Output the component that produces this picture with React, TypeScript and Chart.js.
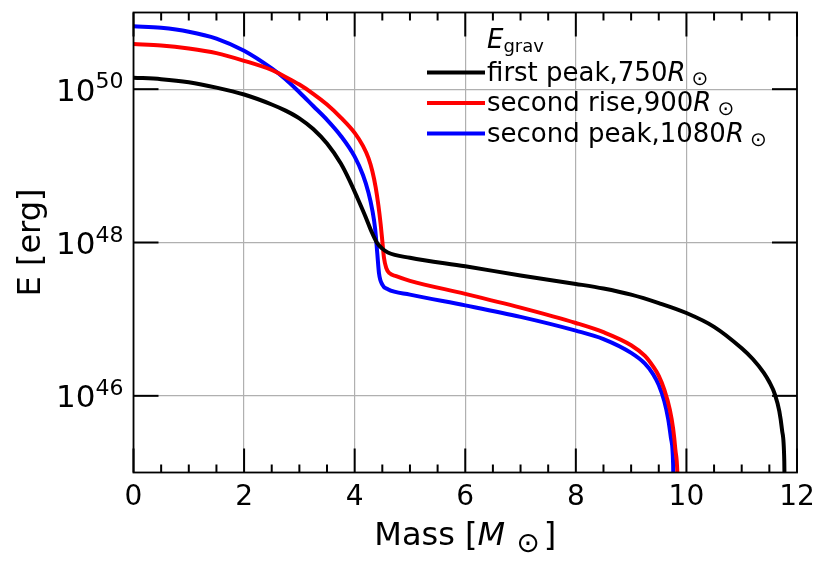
import { useEffect, useRef } from 'react';
import { Chart, registerables } from 'chart.js';

Chart.register(...registerables);

// E_grav profiles, log10(E / erg)
const firstPeakMass = [0, 0.5, 1, 1.5, 2, 2.5, 2.75, 3, 3.25, 3.5, 3.75, 3.9, 4.05, 4.2, 4.3, 4.4, 4.5, 4.6, 5, 6, 7, 8, 8.5, 9, 9.5, 10, 10.5, 11, 11.2, 11.4, 11.5, 11.6, 11.68, 11.73, 11.77, 11.79];
const firstPeakLogE = [50.15, 50.13, 50.09, 50.02, 49.93, 49.8, 49.72, 49.62, 49.48, 49.29, 49.03, 48.82, 48.58, 48.33, 48.15, 48.0, 47.92, 47.87, 47.8, 47.69, 47.57, 47.46, 47.4, 47.32, 47.21, 47.08, 46.9, 46.62, 46.48, 46.3, 46.18, 46.02, 45.8, 45.55, 45.15, 44];

const secondRiseMass = [0, 0.5, 1, 1.5, 2, 2.5, 2.75, 3, 3.25, 3.5, 3.75, 4, 4.15, 4.25, 4.32, 4.38, 4.43, 4.47, 4.5, 4.53, 4.57, 4.63, 4.75, 5, 6, 7, 8, 8.5, 9, 9.25, 9.4, 9.5, 9.6, 9.7, 9.76, 9.8, 9.84, 9.86];
const secondRiseLogE = [50.59, 50.57, 50.53, 50.47, 50.37, 50.25, 50.16, 50.06, 49.94, 49.8, 49.63, 49.43, 49.26, 49.1, 48.93, 48.72, 48.48, 48.24, 48.02, 47.8, 47.67, 47.6, 47.56, 47.5, 47.33, 47.15, 46.95, 46.83, 46.66, 46.52, 46.38, 46.26, 46.08, 45.82, 45.57, 45.3, 44.9, 44];

const secondPeakMass = [0, 0.5, 1, 1.5, 2, 2.5, 2.75, 3, 3.25, 3.5, 3.75, 4, 4.15, 4.25, 4.32, 4.37, 4.41, 4.44, 4.5, 4.6, 5, 6, 7, 8, 8.5, 9, 9.25, 9.4, 9.5, 9.6, 9.67, 9.72, 9.76, 9.78];
const secondPeakLogE = [50.82, 50.8, 50.75, 50.66, 50.5, 50.27, 50.13, 49.96, 49.78, 49.6, 49.39, 49.12, 48.88, 48.65, 48.42, 48.18, 47.85, 47.6, 47.45, 47.39, 47.32, 47.18, 47.03, 46.85, 46.74, 46.56, 46.42, 46.28, 46.14, 45.93, 45.7, 45.45, 45.1, 44];

const seriesLabels = ['first peak,750R⊙', 'second rise,900R⊙', 'second peak,1080R⊙'];
const seriesColors = ['#000000', '#ff0000', '#0000ff'];

const xTickValues = [0, 2, 4, 6, 8, 10, 12];
const xMinorStep = 0.5;
const yTickExponents = [46, 48, 50];

const FONT = '"DejaVu Sans", sans-serif';

type Piece = { text?: string; font?: string; dy?: number; gap?: number };

const toPoints = (mass: number[], logE: number[]) =>
  mass.map((m, i) => ({ x: m, y: Math.pow(10, logE[i]) }));

// draws a run of text pieces left to right
function drawRun(ctx: CanvasRenderingContext2D, x: number, y: number, parts: Piece[]) {
  let cx = x;
  for (const p of parts) {
    if (p.gap) { cx += p.gap; continue; }
    ctx.font = p.font!;
    ctx.fillText(p.text!, cx, y + (p.dy || 0));
    cx += ctx.measureText(p.text!).width;
  }
  return cx;
}

function runWidth(ctx: CanvasRenderingContext2D, parts: Piece[]) {
  let w = 0;
  for (const p of parts) {
    if (p.gap) { w += p.gap; continue; }
    ctx.font = p.font!;
    w += ctx.measureText(p.text!).width;
  }
  return w;
}

const axesOverlay = {
  id: 'axesOverlay',
  afterDraw(chart: any) {
    const { ctx, chartArea: a } = chart;
    const xs = chart.scales.x;
    const ys = chart.scales.y;
    const seg = (x1: number, y1: number, x2: number, y2: number) => {
      ctx.beginPath(); ctx.moveTo(x1, y1); ctx.lineTo(x2, y2); ctx.stroke();
    };
    ctx.save();
    ctx.strokeStyle = '#000';
    ctx.fillStyle = '#000';
    ctx.lineCap = 'butt';

    // ticks pointing inwards, mirrored on top / right
    ctx.lineWidth = 2;
    for (let v = 0; v <= xs.max; v += xMinorStep) {
      if (xTickValues.includes(v)) continue;
      const px = xs.getPixelForValue(v);
      seg(px, a.bottom, px, a.bottom - 8);
      seg(px, a.top, px, a.top + 8);
    }
    for (const t of xs.ticks) {
      const px = xs.getPixelForValue(t.value);
      seg(px, a.bottom, px, a.bottom - 24);
      seg(px, a.top, px, a.top + 24);
    }
    for (const t of ys.ticks) {
      const py = ys.getPixelForValue(t.value);
      seg(a.left, py, a.left + 25, py);
      seg(a.right, py, a.right - 25, py);
    }
    ctx.lineWidth = 1.8;
    ctx.strokeRect(a.left, a.top, a.right - a.left, a.bottom - a.top);

    // x tick labels
    ctx.textBaseline = 'alphabetic';
    ctx.textAlign = 'center';
    ctx.font = `28px ${FONT}`;
    for (const t of xs.ticks) {
      ctx.fillText(String(t.value), xs.getPixelForValue(t.value), a.bottom + 32.5);
    }

    // y tick labels 10^n
    ctx.textAlign = 'left';
    for (const t of ys.ticks) {
      const py = ys.getPixelForValue(t.value);
      const exp = String(Math.round(Math.log10(t.value)));
      ctx.font = `22px ${FONT}`;
      const we = ctx.measureText(exp).width;
      ctx.fillText(exp, a.left - 10 - we, py - 1);
      ctx.font = `31px ${FONT}`;
      const wb = ctx.measureText('10').width;
      ctx.fillText('10', a.left - 10 - we - wb, py + 11.5);
    }

    // x axis title: Mass [M_sun]
    const xTitle: Piece[] = [
      { text: 'Mass [', font: `32px ${FONT}` },
      { text: 'M', font: `italic 32px ${FONT}` },
      { gap: 11 },
      { text: '⊙', font: `28px ${FONT}`, dy: 7 },
      { gap: 4 },
      { text: ']', font: `32px ${FONT}` },
    ];
    const cx = (a.left + a.right) / 2;
    drawRun(ctx, cx - runWidth(ctx, xTitle) / 2, a.bottom + 72.5, xTitle);

    // y axis title
    ctx.save();
    ctx.translate(40, (a.top + a.bottom) / 2);
    ctx.rotate(-Math.PI / 2);
    ctx.textAlign = 'center';
    ctx.font = `32px ${FONT}`;
    ctx.fillText('E [erg]', 0, 0);
    ctx.restore();

    // legend
    const lx = a.left + 293.5;
    const tx = lx + 60;
    drawRun(ctx, tx, a.top + 35.5, [
      { text: 'E', font: `italic 26px ${FONT}` },
      { text: 'grav', font: `18px ${FONT}`, dy: 4 },
    ]);
    chart.data.datasets.forEach((ds: any, i: number) => {
      const base = a.top + 68 + i * 30.5;
      ctx.strokeStyle = ds.borderColor;
      ctx.lineWidth = 4;
      seg(lx, base - 8, lx + 58, base - 8);
      drawRun(ctx, tx, base, [
        { text: ds.label.slice(0, -2), font: `26px ${FONT}` },
        { text: 'R', font: `italic 26px ${FONT}` },
        { gap: 6 },
        { text: '⊙', font: `20px ${FONT}`, dy: 4 },
      ]);
    });
    ctx.restore();
  },
};

export default function App() {
  const canvasRef = useRef<HTMLCanvasElement>(null);

  useEffect(() => {
    document.body.style.margin = '0';
    const series = [
      toPoints(firstPeakMass, firstPeakLogE),
      toPoints(secondRiseMass, secondRiseLogE),
      toPoints(secondPeakMass, secondPeakLogE),
    ];
    const chart = new Chart(canvasRef.current!, {
      type: 'line',
      data: {
        datasets: series.map((pts, i) => ({
          label: seriesLabels[i],
          data: pts,
          borderColor: seriesColors[i],
          backgroundColor: seriesColors[i],
          borderWidth: 4,
          pointRadius: 0,
          cubicInterpolationMode: 'monotone' as const,
          clip: 0,
        })),
      },
      options: {
        responsive: false,
        animation: false,
        events: [],
        layout: { padding: { top: 12.5, right: 33, left: 0, bottom: 0 } },
        plugins: { legend: { display: false }, tooltip: { enabled: false } },
        scales: {
          x: {
            type: 'linear',
            min: 0,
            max: 12,
            afterBuildTicks: (s: any) => { s.ticks = xTickValues.map((v) => ({ value: v })); },
            afterFit: (s: any) => { s.height = 92.5; },
            ticks: { display: false },
            border: { display: false },
            grid: { color: '#b0b0b0', lineWidth: 1.2, drawTicks: false },
          },
          y: {
            type: 'logarithmic',
            min: 1e45,
            max: 1e51,
            afterBuildTicks: (s: any) => { s.ticks = yTickExponents.map((e) => ({ value: Math.pow(10, e) })); },
            afterFit: (s: any) => { s.width = 133.5; },
            ticks: { display: false },
            border: { display: false },
            grid: { color: '#b0b0b0', lineWidth: 1.2, drawTicks: false },
          },
        },
      },
      plugins: [axesOverlay],
    });
    return () => chart.destroy();
  }, []);

  return (
    <div style={{ width: 830, height: 565, background: '#fff' }}>
      <canvas ref={canvasRef} width={830} height={565} />
    </div>
  );
}
